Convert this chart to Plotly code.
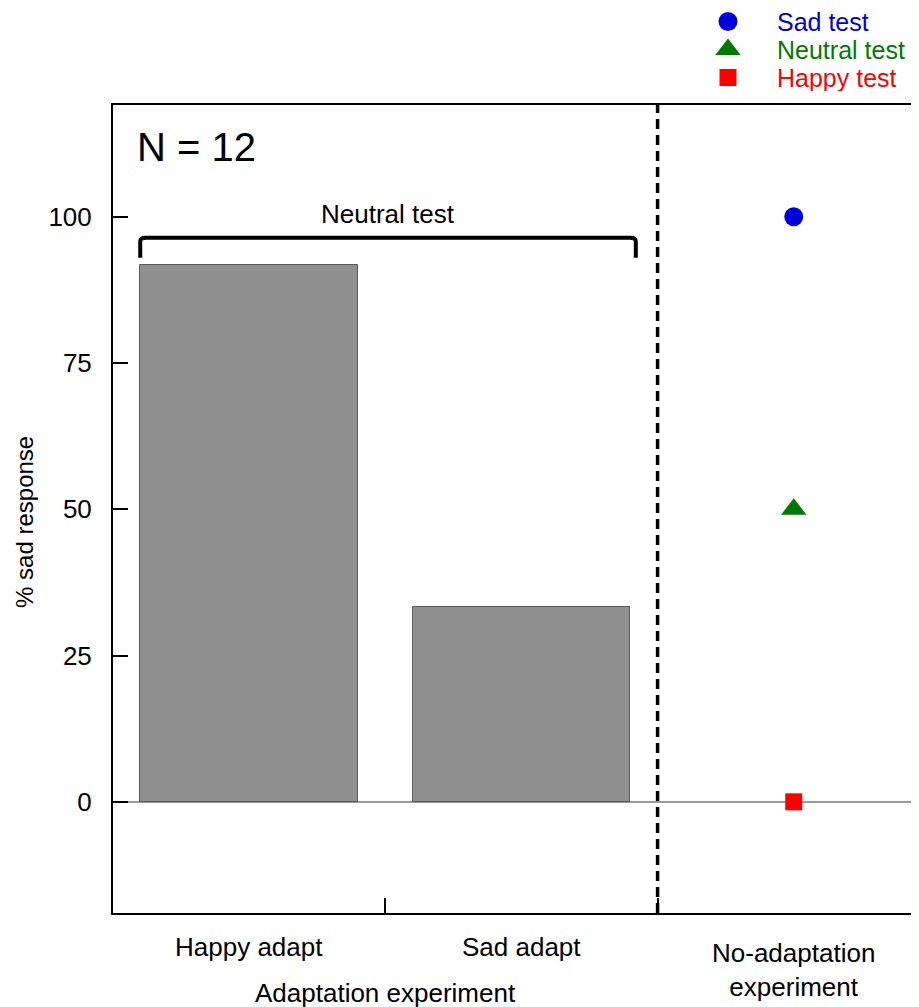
import plotly.graph_objects as go

# ---- data ----
adapt_conditions = ["Happy adapt", "Sad adapt"]
adapt_values = [91.67, 33.33]          # % sad response, neutral test after adaptation
test_types = ["Sad test", "Neutral test", "Happy test"]
noadapt_values = [100, 50, 0]          # % sad response, no-adaptation experiment
test_colors = ["#0000DD", "#007A00", "#FF0000"]
test_symbols = ["circle", "triangle-up", "square"]
test_sizes = [19, 22, 17]
y_ticks = [0, 25, 50, 75, 100]
n_subjects = 12

FONT = "Liberation Sans, Arial, Helvetica, sans-serif"

bar_x = [i + 1 for i in range(len(adapt_conditions))]
noadapt_x = len(adapt_conditions) + 1
divider_x = len(adapt_conditions) + 0.5

# layout geometry (figure is offset by the 8px page margin)
FIG_W, FIG_H = 911, 999
M_L, M_B = 105, 94
PLOT_TOP = 97                      # px from top of figure to top of main plot box
plot_h = FIG_H - M_B               # height of plotting region (margin t = 0)
main_dom_top = (plot_h - PLOT_TOP) / plot_h

fig = go.Figure()

fig.add_trace(go.Bar(
    x=bar_x, y=adapt_values, width=0.8,
    marker=dict(color="#8f8f8f", line=dict(color="#5a5a5a", width=1)),
    showlegend=False, hoverinfo="skip",
))

for name, val, col, sym, sz in zip(test_types, noadapt_values, test_colors, test_symbols, test_sizes):
    fig.add_trace(go.Scatter(
        x=[noadapt_x], y=[val], mode="markers",
        marker=dict(color=col, symbol=sym, size=sz),
        name=name, showlegend=False, cliponaxis=False,
    ))

# ---- key (legend) drawn on its own small axis: row index -> vertical position ----
rows = list(range(len(test_types)))
for i, name, col, sym, sz in zip(rows, test_types, test_colors, test_symbols, test_sizes):
    fig.add_trace(go.Scatter(
        x=[0], y=[i], mode="markers", xaxis="x2", yaxis="y2",
        marker=dict(color=col, symbol=sym, size=sz),
        showlegend=False, hoverinfo="skip", cliponaxis=False,
    ))
    fig.add_annotation(x=1, y=i, xref="x2", yref="y2", text=name, showarrow=False,
                       xanchor="left", yanchor="middle", height=26, borderpad=0,
                       font=dict(size=25, color=col, family=FONT))

# dashed divider
fig.add_shape(type="line", xref="x", yref="y domain", x0=divider_x, x1=divider_x, y0=0, y1=1,
              line=dict(color="black", width=3.5, dash="10px,6px"))

# bracket over the two bars
bl = bar_x[0] - 0.4
br = bar_x[-1] + 0.42
top = 96.4
bot = 93.0
fig.add_shape(type="path",
              path=f"M {bl} {bot} L {bl} {top-0.6} Q {bl} {top} {bl+0.02} {top} "
                   f"L {br-0.02} {top} Q {br} {top} {br} {top-0.6} L {br} {bot}",
              xref="x", yref="y", line=dict(color="black", width=4))

fig.add_annotation(x=(bl + br) / 2, y=100.4, xref="x", yref="y", text="Neutral test",
                   showarrow=False, font=dict(size=26, color="black", family=FONT), yanchor="middle")

fig.add_annotation(x=0.027, y=0.948, xref="x domain", yref="y domain", text=f"N = {n_subjects}",
                   showarrow=False, xanchor="left", yanchor="middle",
                   font=dict(size=40, color="black", family=FONT))

# y-axis title
fig.add_annotation(x=0, y=0.484, xref="x domain", yref="y domain", text="% sad response",
                   textangle=-90, showarrow=False, xanchor="center", yanchor="middle",
                   xshift=-88, font=dict(size=24, color="black", family=FONT))

# category labels
for xv, lab in zip(bar_x, adapt_conditions):
    fig.add_annotation(x=xv, y=0, xref="x", yref="y domain", text=lab, showarrow=False,
                       yanchor="middle", yshift=-34, font=dict(size=26, color="black", family=FONT))
fig.add_annotation(x=noadapt_x, y=0, xref="x", yref="y domain", text="No-adaptation<br>experiment",
                   showarrow=False, yanchor="middle", yshift=-57,
                   font=dict(size=26, color="black", family=FONT))
fig.add_annotation(x=(bar_x[0] + bar_x[-1]) / 2, y=0, xref="x", yref="y domain",
                   text="Adaptation experiment", showarrow=False, yanchor="middle", yshift=-80,
                   font=dict(size=26, color="black", family=FONT))

# key axis ranges: marker at x=0, text at x=1 (48 px apart); rows 28 px apart
key_px = 48.0
key_x0 = (113 - 728) / key_px
key_x1 = (919 - 728) / key_px
row_px = 28.0
first_row_px = 13.5
key_y_top = -first_row_px / row_px
key_y_bot = (PLOT_TOP - first_row_px) / row_px

fig.update_layout(
    width=FIG_W, height=FIG_H,
    margin=dict(l=M_L, r=0, t=0, b=M_B),
    paper_bgcolor="white", plot_bgcolor="white",
    font=dict(family=FONT, size=26, color="black"),
    bargap=0,
    showlegend=False,
    xaxis=dict(range=[0.5, 3.46], domain=[0, 1], tickvals=[1.5, 2.5], ticktext=["", ""],
               ticks="inside", ticklen=15, tickwidth=2, tickcolor="black", showline=True,
               linecolor="black", linewidth=2, mirror=True, showgrid=False, zeroline=False,
               fixedrange=True),
    yaxis=dict(range=[-19, 119.1], domain=[0, main_dom_top], tickvals=y_ticks, ticks="inside",
               ticklen=15, tickwidth=2, tickcolor="black", showline=True, linecolor="black",
               linewidth=2, mirror=False, showgrid=False, zeroline=True,
               zerolinecolor="#999999", zerolinewidth=1.5, ticklabelstandoff=14,
               tickfont=dict(size=26, family=FONT), fixedrange=True),
    xaxis2=dict(range=[key_x0, key_x1], domain=[0, 1], anchor="y2", visible=False,
                fixedrange=True),
    yaxis2=dict(range=[key_y_bot, key_y_top], domain=[main_dom_top, 1], anchor="x2",
                visible=False, fixedrange=True),
)

fig.write_html("out.html")
